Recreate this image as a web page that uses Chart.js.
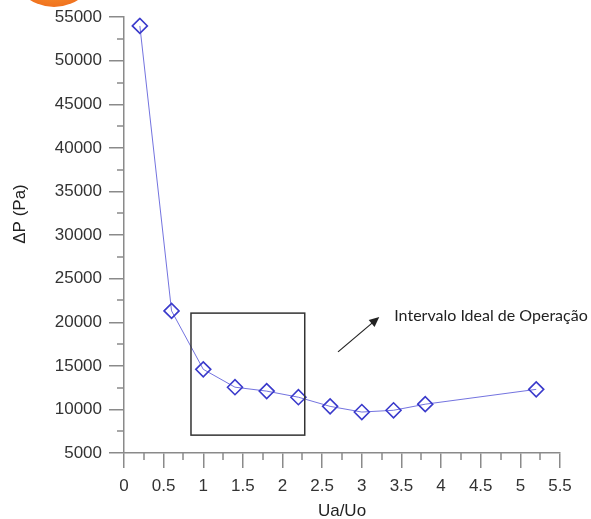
<!DOCTYPE html>
<html>
<head>
<meta charset="utf-8">
<script src="https://cdn.jsdelivr.net/npm/chart.js@4/dist/chart.umd.min.js"></script>
<style>
  html, body { margin: 0; padding: 0; background: #fff; }
  #wrap { width: 591px; height: 519px; position: relative; }
</style>
</head>
<body>
<div id="wrap"><canvas id="myChart"></canvas></div>
<script>
// data
var ratio = [0.2, 0.6, 1.0, 1.4, 1.8, 2.2, 2.6, 3.0, 3.4, 3.8, 5.2];
var deltaP = [54000, 21300, 14600, 12550, 12100, 11400, 10350, 9700, 9900, 10600, 12300];

var xTickLabels = ['0', '0.5', '1', '1.5', '2', '2.5', '3', '3.5', '4', '4.5', '5', '5.5'];
var yTickLabels = ['5000', '10000', '15000', '20000', '25000', '30000', '35000', '40000', '45000', '50000', '55000'];

// "ideal operating range" box and arrow, in data units
var boxX = [0.845, 2.28];
var boxY = [7050, 21050];
var arrowFrom = [2.70, 16600];
var arrowTo = [3.22, 20600];
var noteText = 'Intervalo Ideal de Operação';
var yTitle = 'ΔP (Pa)';

var axisGray = '#8a8a8a';

function isMajor(list, v) {
  return list.indexOf(String(Math.round(v * 100) / 100)) !== -1;
}

var extras = {
  id: 'extras',
  afterDraw: function(chart) {
    var c = chart.ctx, x = chart.scales.x, y = chart.scales.y;
    c.save();

    // orange blob cut off at the top left
    var g = c.createRadialGradient(50, -30, 5, 54, -37, 45);
    g.addColorStop(0, '#fbb03b');
    g.addColorStop(1, '#f0701e');
    c.fillStyle = g;
    c.beginPath();
    c.arc(54, -37.6, 44.6, 0, Math.PI * 2);
    c.fill();

    // minor ticks
    c.strokeStyle = axisGray;
    c.lineWidth = 1.5;
    c.beginPath();
    x.ticks.forEach(function(t) {
      if (!isMajor(xTickLabels, t.value)) {
        var px = Math.round(x.getPixelForValue(t.value));
        c.moveTo(px, y.bottom);
        c.lineTo(px, y.bottom + 7);
      }
    });
    y.ticks.forEach(function(t) {
      if (!isMajor(yTickLabels, t.value)) {
        var py = Math.round(y.getPixelForValue(t.value));
        c.moveTo(x.left, py);
        c.lineTo(x.left - 7, py);
      }
    });
    c.stroke();

    // box
    var bx0 = x.getPixelForValue(boxX[0]), bx1 = x.getPixelForValue(boxX[1]);
    var by0 = y.getPixelForValue(boxY[1]), by1 = y.getPixelForValue(boxY[0]);
    c.strokeStyle = '#333';
    c.lineWidth = 1.5;
    c.strokeRect(bx0, by0, bx1 - bx0, by1 - by0);

    // arrow
    var ax0 = x.getPixelForValue(arrowFrom[0]), ay0 = y.getPixelForValue(arrowFrom[1]);
    var ax1 = x.getPixelForValue(arrowTo[0]), ay1 = y.getPixelForValue(arrowTo[1]);
    var ang = Math.atan2(ay1 - ay0, ax1 - ax0);
    c.strokeStyle = '#222';
    c.fillStyle = '#222';
    c.lineWidth = 1.2;
    c.beginPath();
    c.moveTo(ax0, ay0);
    c.lineTo(ax1 - 6 * Math.cos(ang), ay1 - 6 * Math.sin(ang));
    c.stroke();
    c.beginPath();
    c.moveTo(ax1, ay1);
    c.lineTo(ax1 - 10 * Math.cos(ang) + 4.5 * Math.sin(ang), ay1 - 10 * Math.sin(ang) - 4.5 * Math.cos(ang));
    c.lineTo(ax1 - 10 * Math.cos(ang) - 4.5 * Math.sin(ang), ay1 - 10 * Math.sin(ang) + 4.5 * Math.cos(ang));
    c.closePath();
    c.fill();

    // note
    c.font = '16px Lato, "Open Sans", sans-serif';
    c.fillStyle = '#222';
    c.textAlign = 'left';
    c.textBaseline = 'middle';
    c.fillText(noteText, ax1 + 15, ay1 - 1);

    // y title
    c.font = '17px "Liberation Sans", Arial, sans-serif';
    c.fillStyle = '#222';
    c.translate(20, 214);
    c.rotate(-Math.PI / 2);
    c.textAlign = 'center';
    c.fillText(yTitle, 0, 0);

    c.restore();
  }
};

Chart.defaults.font.family = '"Liberation Sans", Arial, sans-serif';
Chart.defaults.color = '#333';

var ctx = document.getElementById('myChart');
new Chart(ctx, {
  type: 'line',
  data: {
    datasets: [{
      label: 'ΔP',
      data: ratio.map(function(r, i) { return {x: r, y: deltaP[i]}; }),
      borderColor: 'rgba(100,100,220,0.9)',
      borderWidth: 1,
      tension: 0,
      pointStyle: 'rectRot',
      pointRadius: 7.5,
      pointHoverRadius: 7.5,
      pointBorderColor: '#3a3acb',
      pointBorderWidth: 1.6,
      pointBackgroundColor: 'rgba(255,255,255,0)'
    }]
  },
  options: {
    responsive: true,
    maintainAspectRatio: false,
    animation: false,
    layout: { padding: { top: 17, right: 31, left: 0, bottom: 0 } },
    plugins: { legend: { display: false }, tooltip: { enabled: false } },
    scales: {
      x: {
        type: 'linear',
        min: 0,
        max: 5.5,
        afterFit: function(s) { s.height = 66; },
        ticks: {
          stepSize: 0.25,
          autoSkip: false,
          maxRotation: 0,
          padding: 8,
          font: { size: 17 },
          callback: function(v) {
            var k = String(Math.round(v * 100) / 100);
            return xTickLabels.indexOf(k) !== -1 ? k : '';
          }
        },
        grid: {
          drawOnChartArea: false,
          tickLength: 15,
          lineWidth: 1.5,
          color: function(c) { return c.tick && isMajor(xTickLabels, c.tick.value) ? axisGray : 'rgba(0,0,0,0)'; }
        },
        border: { color: axisGray, width: 1.5 },
        title: { display: true, text: 'Ua/Uo', color: '#222', font: { size: 17, lineHeight: 1 }, padding: { top: 0, bottom: -1 } }
      },
      y: {
        min: 5000,
        max: 55000,
        afterFit: function(s) { s.width = 124; },
        ticks: {
          stepSize: 2500,
          autoSkip: false,
          padding: 7,
          font: { size: 17 },
          callback: function(v) {
            var k = String(v);
            return yTickLabels.indexOf(k) !== -1 ? k : '';
          }
        },
        grid: {
          drawOnChartArea: false,
          tickLength: 15,
          lineWidth: 1.5,
          color: function(c) { return c.tick && isMajor(yTickLabels, c.tick.value) ? axisGray : 'rgba(0,0,0,0)'; }
        },
        border: { color: axisGray, width: 1.5 }
      }
    }
  },
  plugins: [extras]
});
</script>
</body>
</html>
